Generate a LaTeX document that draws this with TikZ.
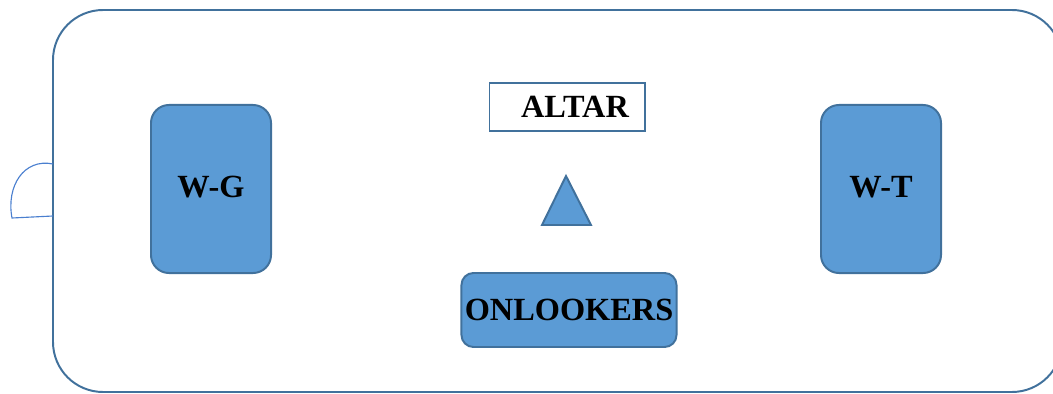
\documentclass[tikz,border=0pt]{standalone}
\usepackage{fontspec}
\setmainfont{Liberation Serif}
\definecolor{boxfill}{HTML}{5B9BD5}
\definecolor{boxline}{HTML}{41719C}
\definecolor{doorline}{HTML}{4A7FCF}
\begin{document}
\begin{tikzpicture}[x=0.025cm,y=-0.025cm,
  room/.style={draw=boxline, line width=1.4pt, rounded corners=1.25cm},
  seat/.style={draw=boxline, fill=boxfill, line width=1.4pt, rounded corners=0.45cm, inner sep=0pt, font=\fontsize{23}{27}\selectfont\bfseries},
  altarbox/.style={draw=boxline, fill=white, line width=1.4pt, inner sep=0pt, font=\fontsize{23}{27}\selectfont\bfseries}]
\useasboundingbox (0,0) rectangle (1053,394);
\begin{scope}
\clip (0,0) rectangle (1053,394);
\draw[room] (53,10) rectangle (1062,392);
\end{scope}
% door on the left wall
\draw[doorline, line width=0.8pt] (53,164) .. controls (24,158) and (6,186) .. (12,218) -- (53,216);
\node(wg) at (211,189) [seat, minimum width=3cm, minimum height=4.2cm]{\raisebox{0.1cm}{W-G}};
\node(wt) at (881,189) [seat, minimum width=3cm, minimum height=4.2cm]{\raisebox{0.1cm}{W-T}};
\node(altar) at (567,107) [altarbox, minimum width=3.875cm, minimum height=1.2cm]{\hspace{0.4cm}ALTAR};
\node(onl) at (569,310) [seat, rounded corners=0.3cm, minimum width=5.375cm, minimum height=1.85cm]{ONLOOKERS};
\draw[draw=boxline, fill=boxfill, line width=1.4pt, line join=miter] (566,176) -- (591,225) -- (542,225) -- cycle;
\end{tikzpicture}
\end{document}
